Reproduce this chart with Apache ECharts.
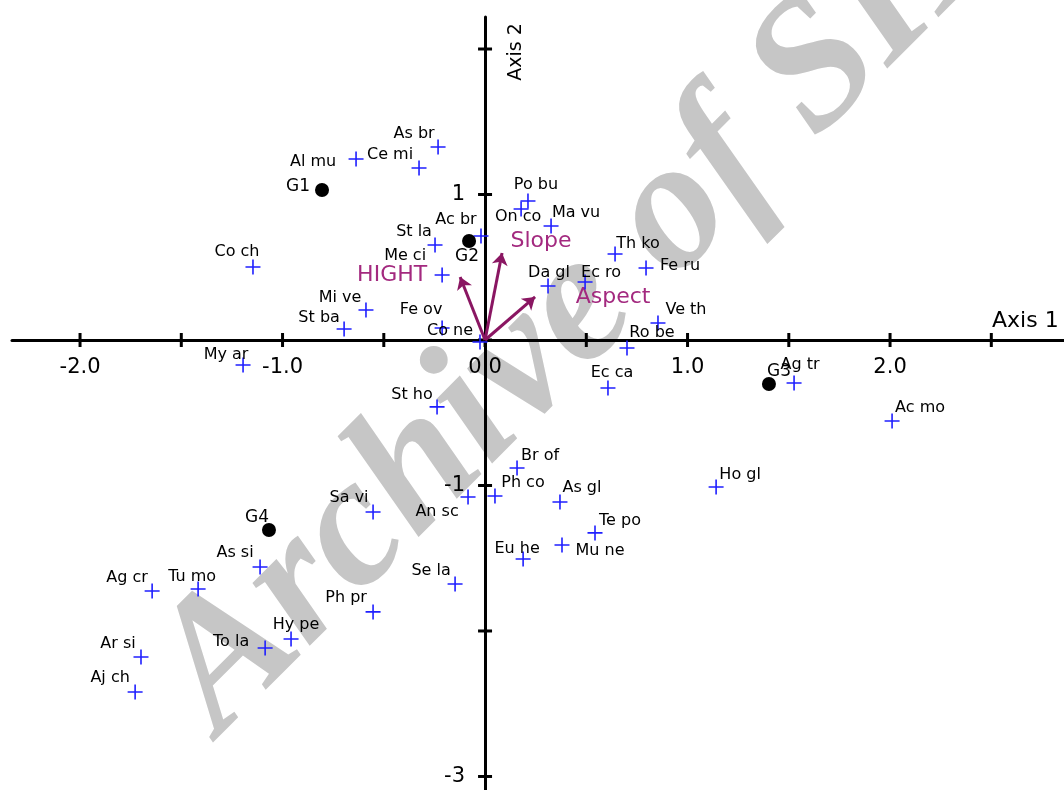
<!DOCTYPE html>
<html>
<head>
<meta charset="utf-8">
<script src="https://cdn.jsdelivr.net/npm/echarts@6/dist/echarts.min.js"></script>
<style>
html, body { margin: 0; padding: 0; background: #fff; }
#main { width: 1064px; height: 790px; }
</style>
</head>
<body>
<div id="main"></div>
<script>
// species scores (Axis 1 / Axis 2)
const speciesNames = [
    "As br", "Al mu", "Ce mi", "Co ch", "St la", "Ac br", "Me ci", "Mi ve", "St ba", "Fe ov",
    "Co ne", "My ar", "St ho", "Sa vi", "An sc", "Ph co", "Br of", "As gl", "Te po", "Mu ne",
    "Eu he", "Ho gl", "Ac mo", "Ag tr", "Ec ca", "Ro be", "Ve th", "Fe ru", "Th ko", "Ec ro",
    "Da gl", "Ma vu", "On co", "Po bu", "As si", "Ag cr", "Tu mo", "Se la", "Ph pr", "Hy pe",
    "To la", "Ar si", "Aj ch"
];
const speciesAxis1 = [
    -0.232, -0.637, -0.326, -1.146, -0.247, -0.020, -0.212, -0.588, -0.696, -0.212,
    -0.025, -1.195, -0.237, -0.553, -0.084, 0.049, 0.158, 0.370, 0.543, 0.380,
    0.188, 1.141, 2.010, 1.526, 0.607, 0.701, 0.854, 0.795, 0.642, 0.494,
    0.311, 0.326, 0.178, 0.212, -1.111, -1.644, -1.417, -0.148, -0.553, -0.958,
    -1.086, -1.699, -1.728
];
const speciesAxis2 = [
    1.326, 1.244, 1.182, 0.502, 0.653, 0.715, 0.447, 0.206, 0.076, 0.082,
    -0.014, -0.172, -0.460, -1.182, -1.079, -1.072, -0.880, -1.113, -1.326, -1.409,
    -1.505, -1.010, -0.557, -0.296, -0.330, -0.055, 0.117, 0.495, 0.591, 0.399,
    0.371, 0.783, 0.900, 0.955, -1.560, -1.725, -1.711, -1.677, -1.869, -2.055,
    -2.117, -2.179, -2.419
];

// group centroids
const groupNames = ["G1", "G2", "G3", "G4"];
const groupAxis1 = [-0.805, -0.079, 1.402, -1.067];
const groupAxis2 = [1.031, 0.680, -0.302, -1.306];

// environmental vectors
const envNames = ["HIGHT", "Slope", "Aspect"];
const envAxis1 = [-0.123, 0.084, 0.247];
const envAxis2 = [0.433, 0.598, 0.296];

// ticks
const xTickValues = [-2, -1.5, -1, -0.5, 0, 0.5, 1, 1.5, 2, 2.5];
const xLabelValues = [-2, -1, 0, 1, 2];
const xLabelTexts = ["-2.0", "-1.0", "0.0", "1.0", "2.0"];
const yTickValues = [-3, -2, -1, 0, 1, 2];
const yLabelValues = [-3, -1, 1];
const yLabelTexts = ["-3", "-1", "1"];

// label placement around each mark (pixels)
const labelOffsets = {
    "As br": [-24, -13], "Al mu": [-43, 3], "Ce mi": [-29, -13], "Co ch": [-16, -15],
    "St la": [-21, -13], "Ac br": [-25, -16], "Me ci": [-37, -19], "Mi ve": [-26, -12],
    "St ba": [-25, -11], "Fe ov": [-21, -18], "Co ne": [-30, -11], "My ar": [-17, -10],
    "St ho": [-25, -12], "Sa vi": [-24, -14], "An sc": [-31, 15], "Ph co": [28, -13],
    "Br of": [23, -12], "As gl": [22, -14], "Te po": [25, -12], "Mu ne": [38, 6],
    "Eu he": [-6, -10], "Ho gl": [24, -12], "Ac mo": [28, -13], "Ag tr": [6, -18],
    "Ec ca": [4, -15], "Ro be": [25, -15], "Ve th": [28, -13], "Fe ru": [34, -2],
    "Th ko": [23, -10], "Ec ro": [16, -9], "Da gl": [1, -13], "Ma vu": [25, -13],
    "On co": [-3, 8], "Po bu": [8, -16], "As si": [-25, -14], "Ag cr": [-25, -13],
    "Tu mo": [-6, -12], "Se la": [-24, -13], "Ph pr": [-27, -14], "Hy pe": [5, -14],
    "To la": [-34, -6], "Ar si": [-23, -13], "Aj ch": [-25, -14],
    "G1": [-24, -3], "G2": [-2, 16], "G3": [10, -12], "G4": [-12, -12],
    "HIGHT": [-68, -2], "Slope": [39, -12], "Aspect": [78, 0]
};

const FONT = "DejaVu Sans, Liberation Sans, sans-serif";

function pointData(names, xs, ys) {
    return names.map(function (n, i) {
        return {
            name: n,
            value: [xs[i], ys[i]],
            label: { offset: labelOffsets[n] || [0, -14] }
        };
    });
}

let dom = document.getElementById("main");
let myChart = echarts.init(dom, null, { renderer: "canvas" });

const axisLineStyle = { color: "#000", width: 3 };

let option = {
    animation: false,
    backgroundColor: "#fff",
    grid: { left: 12, right: 0, top: 17, bottom: 0, containLabel: false, outerBoundsMode: "none" },
    graphic: [{
        type: "text",
        z: -10,
        x: 593,
        y: 295,
        rotation: Math.PI / 4,
        silent: true,
        style: {
            text: "Archive of SID",
            font: 'italic bold 185px "Liberation Serif", "Times New Roman", serif',
            fill: "#c6c6c6",
            align: "center",
            verticalAlign: "middle"
        }
    }],
    xAxis: {
        type: "value",
        min: -2.336,
        max: 2.859,
        axisLine: { onZero: true, lineStyle: axisLineStyle },
        axisTick: { show: false },
        axisLabel: { show: false },
        splitLine: { show: false },
        name: "Axis 1",
        nameLocation: "end",
        nameGap: -72,
        nameTextStyle: {
            fontSize: 22, color: "#000", fontFamily: FONT,
            align: "left", verticalAlign: "bottom", padding: [0, 0, 8, 0]
        }
    },
    yAxis: {
        type: "value",
        min: -3.093,
        max: 2.22,
        axisLine: { onZero: true, lineStyle: axisLineStyle },
        axisTick: { show: false },
        axisLabel: { show: false },
        splitLine: { show: false },
        name: "Axis 2",
        nameLocation: "end",
        nameGap: -35,
        nameRotate: 90,
        nameTextStyle: {
            fontSize: 19, color: "#000", fontFamily: FONT,
            align: "center", verticalAlign: "top", padding: [22, 0, 0, 0]
        }
    },
    series: [{
        // tick marks crossing the axis lines
        name: "xTicks",
        type: "scatter",
        symbol: "rect",
        symbolSize: [3, 14],
        silent: true,
        z: 1,
        itemStyle: { color: "#000", opacity: 1 },
        data: xTickValues.map(function (v) { return [v, 0]; })
    }, {
        name: "yTicks",
        type: "scatter",
        symbol: "rect",
        symbolSize: [14, 3],
        silent: true,
        z: 1,
        itemStyle: { color: "#000", opacity: 1 },
        data: yTickValues.map(function (v) { return [0, v]; })
    }, {
        name: "xTickLabels",
        type: "scatter",
        symbolSize: 0,
        silent: true,
        z: 1,
        itemStyle: { opacity: 1 },
        label: {
            show: true, position: "inside", formatter: "{b}", offset: [0, 28],
            fontSize: 21, color: "#000", opacity: 1, fontFamily: FONT
        },
        data: xLabelValues.map(function (v, i) { return { name: xLabelTexts[i], value: [v, 0] }; })
    }, {
        name: "yTickLabels",
        type: "scatter",
        symbolSize: 0,
        silent: true,
        z: 1,
        itemStyle: { opacity: 1 },
        label: {
            show: true, position: "inside", formatter: "{b}", offset: [-20, 0], align: "right",
            fontSize: 21, color: "#000", opacity: 1, fontFamily: FONT
        },
        data: yLabelValues.map(function (v, i) { return { name: yLabelTexts[i], value: [0, v] }; })
    }, {
        name: "Environment",
        type: "lines",
        coordinateSystem: "cartesian2d",
        z: 3,
        symbol: ["none", "arrow"],
        symbolSize: 12,
        lineStyle: { color: "#8a1662", width: 3, opacity: 1 },
        data: envNames.map(function (n, i) {
            return { name: n, coords: [[0, 0], [envAxis1[i], envAxis2[i]]] };
        })
    }, {
        name: "EnvLabels",
        type: "scatter",
        symbolSize: 0,
        z: 4,
        itemStyle: { opacity: 1 },
        label: {
            show: true, position: "inside", formatter: "{b}",
            fontSize: 22, color: "#a3297f", opacity: 1, fontFamily: FONT
        },
        data: pointData(envNames, envAxis1, envAxis2)
    }, {
        name: "Species",
        type: "scatter",
        symbol: "path://M0,5L10,5M5,0L5,10",
        symbolSize: 15,
        z: 5,
        itemStyle: { color: "transparent", borderColor: "#1f1fff", borderWidth: 1.6, opacity: 1 },
        label: {
            show: true, position: "inside", formatter: "{b}",
            fontSize: 16, color: "#000", fontFamily: FONT
        },
        data: pointData(speciesNames, speciesAxis1, speciesAxis2)
    }, {
        name: "Groups",
        type: "scatter",
        symbol: "circle",
        symbolSize: 14,
        z: 6,
        itemStyle: { color: "#000", opacity: 1 },
        label: {
            show: true, position: "inside", formatter: "{b}",
            fontSize: 17, color: "#000", fontFamily: FONT
        },
        data: pointData(groupNames, groupAxis1, groupAxis2)
    }]
};

if (option && typeof option === "object") {
    myChart.setOption(option);
}

window.addEventListener("resize", myChart.resize);
</script>
</body>
</html>
